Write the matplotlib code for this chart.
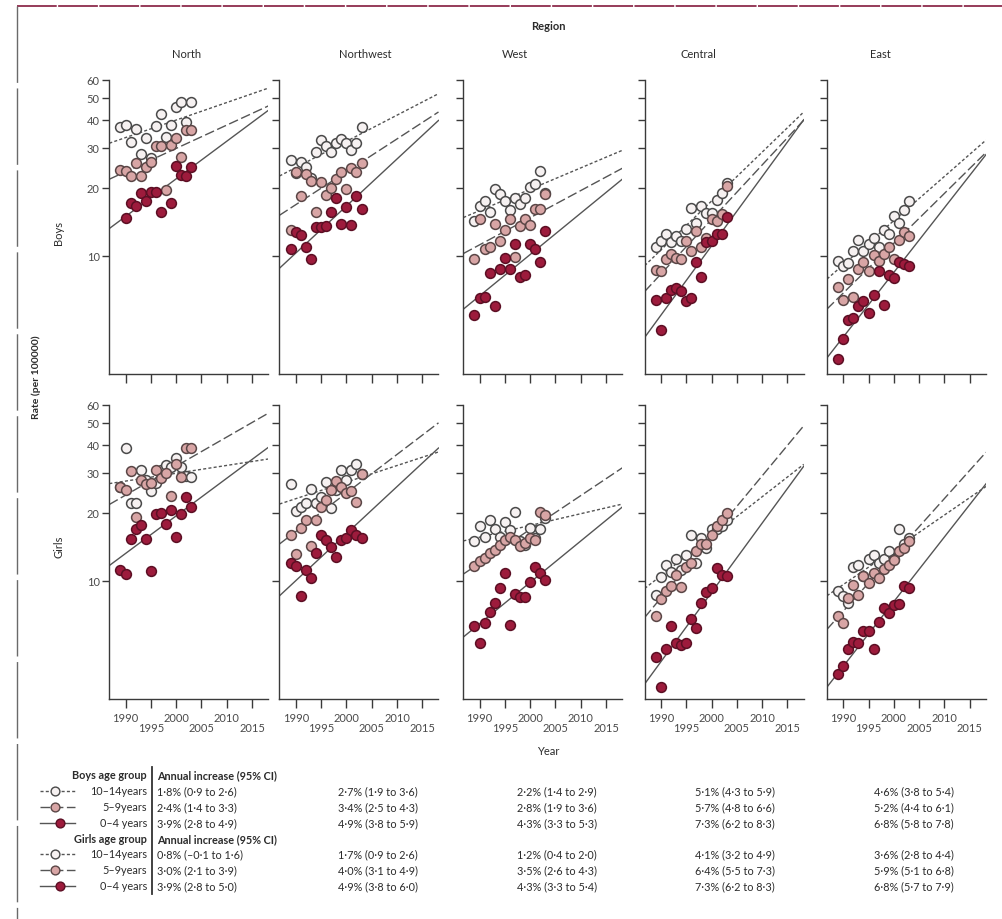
import numpy as np
import matplotlib
matplotlib.use("Agg")
import matplotlib.pyplot as plt

plt.rcParams["font.family"] = ["Lato", "DejaVu Sans"]

nan = np.nan
REGIONS = ["North", "Northwest", "West", "Central", "East"]
YEARS = np.arange(1989, 2004)
GROUPS = ["10–14", "5–9", "0–4"]

# incidence per 100000, one value per year 1989-2003
BOYS_10_14 = {
    "North": [37, 38, 32, 36.2, 28.2, 33.2, 27, 37.6, 42.4, 33.5, 38, 45.6, 48, 39, 48],
    "Northwest": [26.5, 23.2, 25.9, 24.6, 22, 28.7, 32.5, 30.6, 28.7, 31.4, 32.8, 31.5, 29.3, 31.5, 37],
    "West": [14.3, 16.6, 17.5, 15.6, 19.8, 18.8, 17.5, 15.9, 18.1, 17, 18.1, 20.2, 20.8, 23.6, 19],
    "Central": [11, 11.6, 12.5, 11.5, 12.3, 11.6, 13.1, 16.3, 14, 16.6, 15.5, 15.5, 17.6, 18.9, 21.1],
    "East": [9.5, 9.0, 9.3, 10.5, 11.8, 10.5, 11.3, 12.0, 11.0, 13.0, 12.5, 15.0, 14.0, 16.0, 17.5],
}
BOYS_5_9 = {
    "North": [24, 23.8, 22.6, 25.7, 22.6, 24.8, 26, 30.6, 30.6, 19.5, 31, 33.3, 27.3, 35.8, 35.8],
    "Northwest": [13, 23.5, 18.4, 22.9, 21.4, 15.6, 21.2, 18.6, 20, 21.8, 23.4, 19.8, 24.4, 23.4, 25.6],
    "West": [9.7, 14.5, 10.7, 10.9, 13.9, 11.7, 13, 14.5, 9.9, 13.5, 14.5, 13.7, 16.1, 16.1, 18.8],
    "Central": [8.7, 8.6, 9.7, 10.2, 9.8, 9.7, 11.6, 10.5, 12.9, 10.9, 12.0, 14.6, 14.2, 15.3, 20.4],
    "East": [7.3, 6.4, 7.9, 6.6, 8.8, 9.4, 8.6, 10.1, 9.5, 10.2, 11.0, 9.7, 11.8, 12.8, 12.2],
}
BOYS_0_4 = {
    "North": [nan, 14.7, 17.2, 16.7, 19.0, 17.5, 19.2, 19.2, 15.7, nan, 17.1, 25.0, 22.8, 22.6, 24.6],
    "Northwest": [10.7, 12.8, 12.4, 10.9, 9.7, 13.4, 13.4, 13.6, 15.6, 18.1, 13.8, 16.4, 13.7, 18.4, 16.1],
    "West": [5.5, 6.5, 6.6, 8.4, 6.0, 8.8, 9.8, 8.8, 11.3, 8.1, 8.2, 11.3, 10.7, 9.4, 12.9],
    "Central": [6.4, 4.7, 6.5, 7.1, 7.2, 7.0, 6.3, 6.5, 9.4, 8.1, 11.5, 11.6, 12.5, 12.5, 14.9],
    "East": [3.5, 4.3, 5.2, 5.3, 6.0, 6.3, 5.6, 6.7, 8.6, 6.1, 8.2, 8.0, 9.4, 9.2, 9.0],
}
GIRLS_10_14 = {
    "North": [26, 38.8, 22.2, 22.0, 30.8, 28.0, 24.9, 27.0, 31.0, 32.5, 31.7, 34.8, 31.7, 29, 28.8],
    "Northwest": [26.7, 20.4, 21.3, 22, 25.4, 22, 23.5, 27.4, 21.1, 25.2, 30.8, 27.8, 31, 33, 29.8],
    "West": [15, 17.4, 15.7, 18.6, 17, 15.7, 18.3, 16.8, 20.2, 15, 14.4, 17.1, 15.5, 16.9, 19],
    "Central": [8.7, 10.4, 11.8, 11.0, 12.5, 11.2, 13.0, 15.9, 12.0, 15.4, 14.0, 17.0, 16.9, 17.4, 18.6],
    "East": [9.0, 8.6, 8.0, 11.5, 11.8, 10.5, 12.5, 13.0, 12.0, 12.5, 13.5, 12.5, 17.0, 14.5, 15.5],
}
GIRLS_5_9 = {
    "North": [25.9, 25.2, 30.6, 19.1, 28, 26.8, 27, 31, 28.5, 30, 23.6, 33, 28.8, 38.7, 38.5],
    "Northwest": [15.9, 13.2, 17.1, 18.6, 14.2, 18.6, 21.3, 22.7, 25.2, 27.7, 26, 24.4, 25, 22.4, 29.8],
    "West": [11.6, 12.2, 12.6, 13.3, 13.7, 14.4, 15.2, 15.7, 15.2, 14.2, 14.7, 15.4, 15.2, 20.2, 19.6],
    "Central": [7.0, 8.3, 9.0, 9.5, 10.6, 9.4, 11.5, 12.0, 13.5, 14.5, 14.5, 16.0, 17.5, 18.5, 20.0],
    "East": [7.0, 6.5, 8.4, 9.6, 8.7, 10.5, 9.8, 10.8, 10.3, 11.3, 11.8, 12.4, 13.5, 14.0, 15.0],
}
GIRLS_0_4 = {
    "North": [11.2, 10.7, 15.3, 16.9, 17.6, 15.3, 11.1, 19.7, 20, 17.8, 20.6, 15.6, 19.7, 23.5, 21.3],
    "Northwest": [12.0, 11.6, 8.6, 11.2, 10.3, 13.3, 15.9, 15.2, 14.1, 12.7, 15.2, 15.4, 16.8, 15.9, 15.4],
    "West": [6.3, 5.3, 6.5, 7.3, 8.0, 9.3, 10.8, 6.4, 8.8, 8.5, 8.5, 9.9, 11.5, 10.8, 10.1],
    "Central": [4.6, 3.4, 5.0, 6.3, 5.3, 5.2, 5.3, 6.8, 6.2, 8.0, 8.9, 9.3, 11.4, 10.6, 10.5],
    "East": [3.9, 4.2, 5.0, 5.4, 5.3, 6.0, 6.0, 5.0, 6.6, 7.6, 7.2, 7.8, 7.9, 9.5, 9.3],
}

# annual increase % (estimate, lower, upper) per region
BOYS_INCREASE = {
    "10–14": [(1.8, 0.9, 2.6), (2.7, 1.9, 3.6), (2.2, 1.4, 2.9), (5.1, 4.3, 5.9), (4.6, 3.8, 5.4)],
    "5–9": [(2.4, 1.4, 3.3), (3.4, 2.5, 4.3), (2.8, 1.9, 3.6), (5.7, 4.8, 6.6), (5.2, 4.4, 6.1)],
    "0–4": [(3.9, 2.8, 4.9), (4.9, 3.8, 5.9), (4.3, 3.3, 5.3), (7.3, 6.2, 8.3), (6.8, 5.8, 7.8)],
}
GIRLS_INCREASE = {
    "10–14": [(0.8, -0.1, 1.6), (1.7, 0.9, 2.6), (1.2, 0.4, 2.0), (4.1, 3.2, 4.9), (3.6, 2.8, 4.4)],
    "5–9": [(3.0, 2.1, 3.9), (4.0, 3.1, 4.9), (3.5, 2.6, 4.3), (6.4, 5.5, 7.3), (5.9, 5.1, 6.8)],
    "0–4": [(3.9, 2.8, 5.0), (4.9, 3.8, 6.0), (4.3, 3.3, 5.4), (7.3, 6.2, 8.3), (6.8, 5.7, 7.9)],
}
GROUP_LABELS = ["10–14years", "5–9years", "0–4 years"]

W, H = 1003, 920
LINE_COL = "#555555"
TEXT_COL = "#2b2b2b"
STYLE = {
    "10–14": dict(ls=(0, (2.2, 1.6)), face="#f6f1f1", edge="#4a4a4a"),
    "5–9": dict(ls=(0, (7, 2.5)), face="#d8a5a5", edge="#5a4646"),
    "0–4": dict(ls="-", face="#9d1b3c", edge="#5c0f24"),
}
XLIM = (1986.8, 2018.2)
YLIM = (3.0, 60)

fig = plt.figure(figsize=(W / 100, H / 100), dpi=100)

# overlay in pixel coordinates for titles, frame and table
ov = fig.add_axes([0, 0, 1, 1])
ov.set_xlim(0, W)
ov.set_ylim(H, 0)
ov.axis("off")


def add_panel(left, top, bottom):
    return fig.add_axes([left / W, 1 - bottom / H, 159 / W, (bottom - top) / H])


def fmt(v):
    s = f"{abs(v):.1f}".replace(".", "·")
    return ("–" if v < 0 else "") + s


lefts = [109.3, 279.5, 463.3, 644.7, 827.0]
rows = [
    ("Boys", (80.7, 375.4), [BOYS_10_14, BOYS_5_9, BOYS_0_4], BOYS_INCREASE),
    ("Girls", (405.7, 700.4), [GIRLS_10_14, GIRLS_5_9, GIRLS_0_4], GIRLS_INCREASE),
]

xs = np.linspace(XLIM[0], XLIM[1], 50)
for r, (sex, (top, bottom), series, increase) in enumerate(rows):
    for c, region in enumerate(REGIONS):
        ax = add_panel(lefts[c], top, bottom)
        ax.set_yscale("log")
        ax.set_xlim(*XLIM)
        ax.set_ylim(*YLIM)
        for g, (grp, data) in enumerate(zip(GROUPS, series)):
            st = STYLE[grp]
            y = np.array(data[region], dtype=float)
            ok = ~np.isnan(y)
            # fitted trend with the reported annual increase
            b = np.log(1 + increase[grp][c][0] / 100)
            a = np.mean(np.log(y[ok]) - b * (YEARS[ok] - 1996))
            ax.plot(xs, np.exp(a + b * (xs - 1996)), color=LINE_COL, lw=1.0,
                    linestyle=st["ls"], zorder=1)
        for g, (grp, data) in enumerate(zip(GROUPS, series)):
            st = STYLE[grp]
            ax.scatter(YEARS, data[region], s=50, facecolor=st["face"],
                       edgecolor=st["edge"], linewidths=1.1, zorder=2 + g)
        for s in ["top", "right"]:
            ax.spines[s].set_visible(False)
        for s in ["left", "bottom"]:
            ax.spines[s].set_color("#3a3a3a")
            ax.spines[s].set_linewidth(1.0)
        ax.minorticks_off()
        ax.set_yticks([10, 20, 30, 40, 50, 60])
        ax.set_xticks([1990, 1995, 2000, 2005, 2010, 2015])
        ax.tick_params(axis="y", direction="out", length=5, width=1.0,
                       color="#3a3a3a", labelsize=8, labelcolor="#4a4a4a", pad=2)
        ax.tick_params(axis="x", direction="out", length=6.5, width=1.0,
                       color="#3a3a3a", labelsize=8, labelcolor="#4a4a4a", pad=2.5)
        if c == 0:
            ax.set_yticklabels(["10", "20", "30", "40", "50", "60"])
        else:
            ax.set_yticklabels([])
        if r == 1:
            ax.set_xticklabels(["1990", "\n1995", "2000", "\n2005", "2010", "\n2015"],
                               linespacing=0.95)
        else:
            ax.set_xticklabels([])
        ax.patch.set_alpha(0)

# headings
ov.text(548, 27, "Region", ha="center", va="center", fontsize=8, fontweight="bold", color=TEXT_COL)
for name, x in zip(REGIONS, [187, 365, 515, 698, 880]):
    ov.text(x, 55, name, ha="center", va="center", fontsize=8, color=TEXT_COL)
ov.text(59, 233, "Boys", rotation=90, ha="center", va="center", fontsize=8, color=TEXT_COL)
ov.text(59, 547, "Girls", rotation=90, ha="center", va="center", fontsize=8, color=TEXT_COL)
ov.text(36, 377, "Rate (per 100000)", rotation=90, ha="center", va="center", fontsize=7.5,
        fontweight="bold", color=TEXT_COL)
ov.text(548, 752, "Year", ha="center", va="center", fontsize=8, color=TEXT_COL)

# frame edges
ov.plot([17, W], [6.5, 6.5], color="#8e2c4c", lw=1.3, linestyle=(0, (22, 0.8)))
ov.plot([17.3, 17.3], [6.5, H], color="#6a6a6a", lw=1.0, linestyle=(0, (55, 4)))

# table of annual increases
col_x = [157, 338, 517, 695, 874]
ov.plot([152, 152], [768, 895], color="#333333", lw=1.3)
table = [("Boys age group", 776, BOYS_INCREASE, [792, 808, 823.5]),
         ("Girls age group", 839.5, GIRLS_INCREASE, [855, 871, 887])]
for head, hy, increase, ys in table:
    ov.text(147, hy, head, ha="right", va="center", fontsize=7.8, fontweight="bold", color=TEXT_COL)
    ov.text(157, hy, "Annual increase (95% CI)", ha="left", va="center", fontsize=7.8,
            fontweight="bold", color=TEXT_COL)
    for grp, lab, y in zip(GROUPS, GROUP_LABELS, ys):
        st = STYLE[grp]
        mx = 60 if grp == "0–4" else 55
        ov.plot([40, 75], [y, y], color=LINE_COL, lw=1.0, linestyle=st["ls"])
        ov.scatter([mx], [y], s=40, facecolor=st["face"], edgecolor=st["edge"], linewidths=1.0,
                   zorder=3)
        ov.text(147, y, lab, ha="right", va="center", fontsize=7.8, color=TEXT_COL)
        for c, x in enumerate(col_x):
            est, lo, hi = increase[grp][c]
            ov.text(x, y, f"{fmt(est)}% ({fmt(lo)} to {fmt(hi)})", ha="left", va="center",
                    fontsize=7.8, color=TEXT_COL)

fig.savefig("out.png", dpi=100)
